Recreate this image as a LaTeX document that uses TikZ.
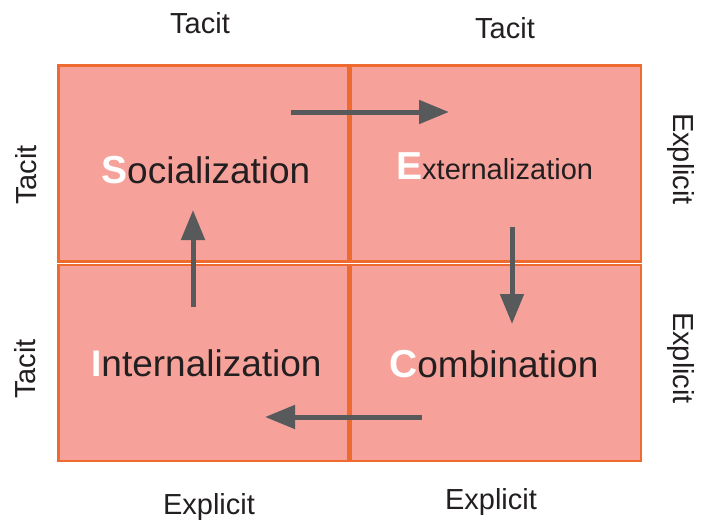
\documentclass[tikz,border=0pt]{standalone}
\usepackage{fontspec}
\setmainfont{Liberation Sans}
\usetikzlibrary{arrows.meta}
\definecolor{boxfill}{HTML}{F6A29B}
\definecolor{boxline}{HTML}{EE6A2E}
\definecolor{ink}{HTML}{231F20}
\definecolor{arrowgray}{HTML}{58595B}
\begin{document}
\begin{tikzpicture}[x=1pt,y=-1pt,
  quad/.style={draw=boxline,fill=boxfill,line width=2.8pt,minimum width=290pt,minimum height=196pt,inner sep=0pt},
  side/.style={font=\fontsize{29}{30}\selectfont,text=ink,inner sep=0pt},
  title/.style={font=\fontsize{37}{40}\selectfont,text=ink,inner sep=0pt,anchor=base west},
  flow/.style={draw=arrowgray,line width=5pt,-{Triangle[length=30pt,width=23pt]}}]
\useasboundingbox (0,0) rectangle (706,519);
% quadrants
\node[quad] (soc) at (203.5,163.5) {};
\node[quad] (ext) at (496,163.5) {};
\node[quad] (int) at (203.5,363) {};
\node[quad] (com) at (496,363) {};
% titles
\node[title] (tsoc) at (101,183) {\textcolor{white}{\fontsize{39}{40}\selectfont\bfseries S}ocialization};
\node[title,font=\fontsize{29}{32}\selectfont] (text) at (396,179) {\textcolor{white}{\fontsize{39}{40}\selectfont\bfseries E}xternalization};
\node[title] (tint) at (91,376) {\textcolor{white}{\bfseries I}nternalization};
\node[title] (tcom) at (389,377) {\textcolor{white}{\fontsize{39}{40}\selectfont\bfseries C}ombination};
% side labels
\node[side,anchor=base] (t1) at (200,34) {Tacit};
\node[side,anchor=base] (t2) at (505,38) {Tacit};
\node[side,rotate=90] (t3) at (26,175) {Tacit};
\node[side,rotate=90] (t4) at (25,369) {Tacit};
\node[side,rotate=-90] (e1) at (681,159) {Explicit};
\node[side,rotate=-90] (e2) at (681,358) {Explicit};
\node[side,anchor=base] (e3) at (209,514) {Explicit};
\node[side,anchor=base] (e4) at (491,509) {Explicit};
% arrow ends
\coordinate (a1s) at (291,112);
\coordinate (a1e) at (449,112);
\coordinate (a2s) at (512,227);
\coordinate (a2e) at (512,324);
\coordinate (a3s) at (422,417);
\coordinate (a3e) at (265,417);
\coordinate (a4s) at (193,307);
\coordinate (a4e) at (193,210);
\draw[flow] (a1s) -- (a1e);
\draw[flow] (a2s) -- (a2e);
\draw[flow] (a3s) -- (a3e);
\draw[flow] (a4s) -- (a4e);
\end{tikzpicture}
\end{document}
